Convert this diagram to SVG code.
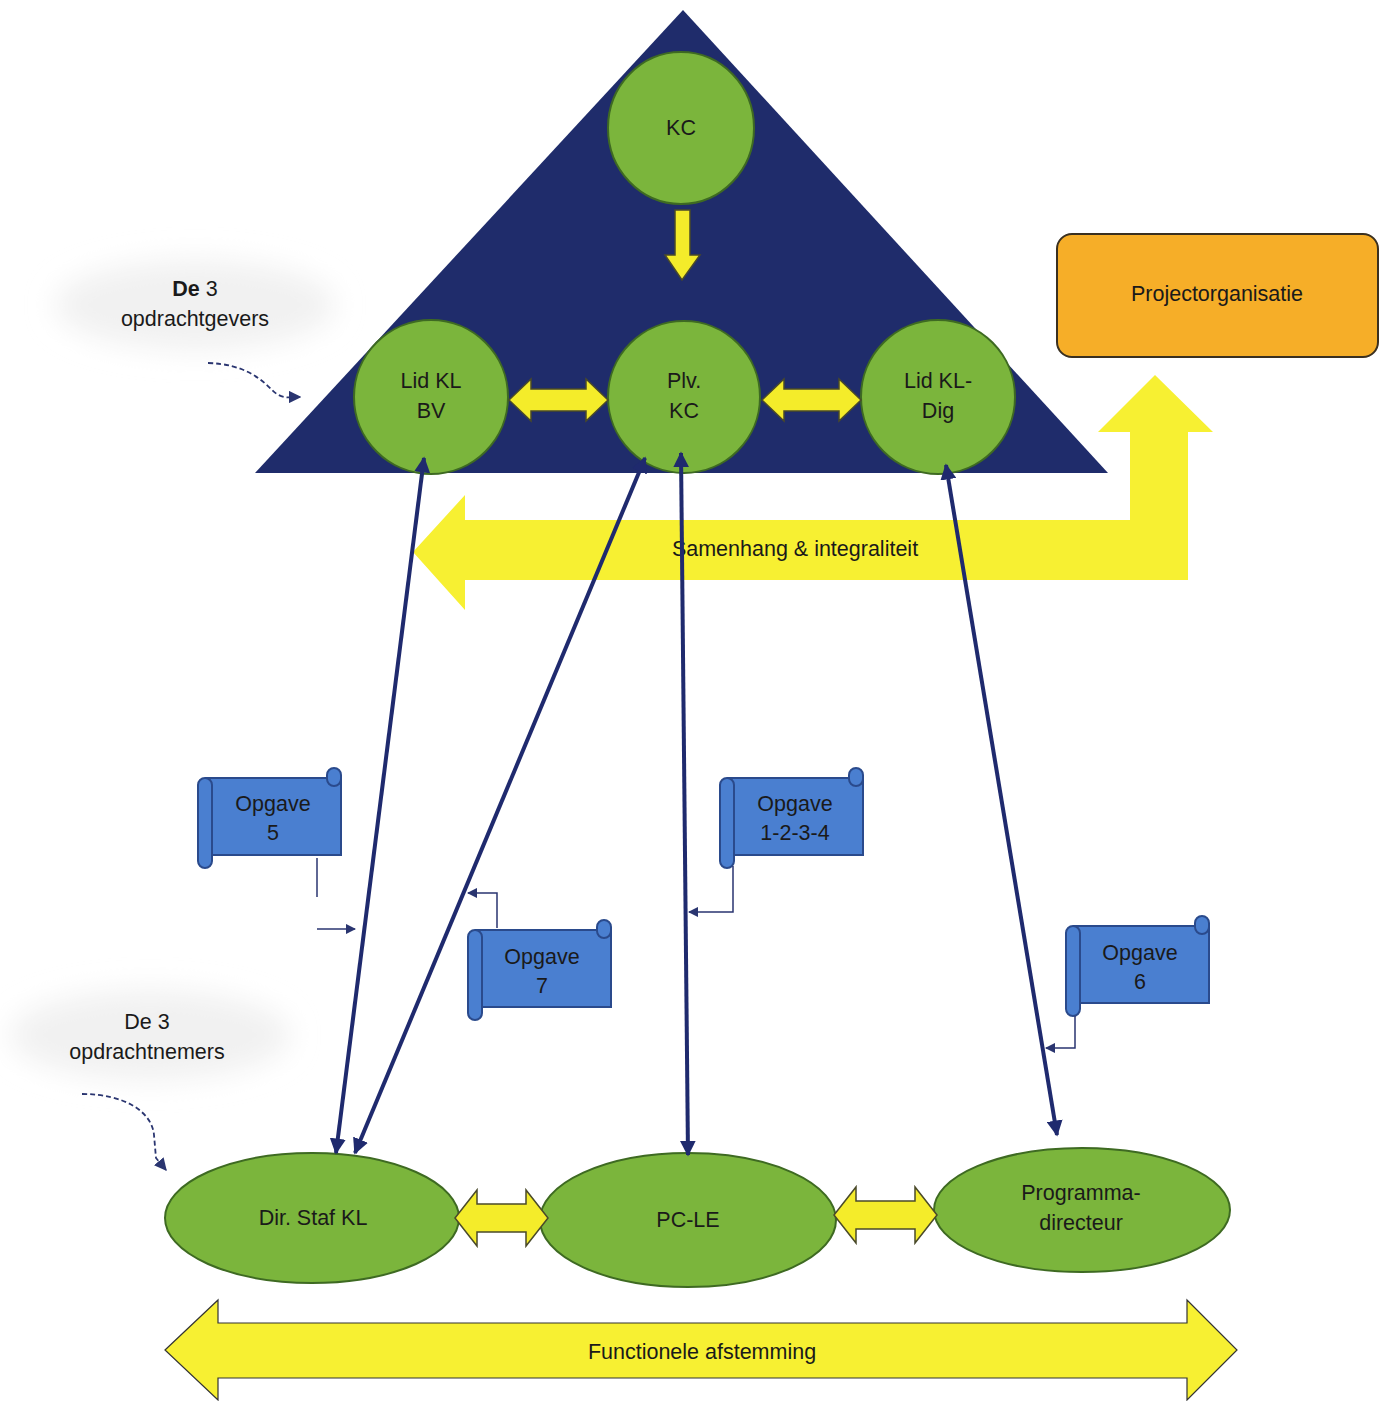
<svg xmlns="http://www.w3.org/2000/svg" width="1384" height="1401" viewBox="0 0 1384 1401">
<style>
text{font-family:"Liberation Sans",Arial,sans-serif;fill:#1a1a1a;text-anchor:middle}
.lbl{font-size:21.5px}
.circ{fill:#7bb53c;stroke:#3e6a22;stroke-width:2}
.yarrow{fill:#f4ec2a;stroke:#4a4a2a;stroke-width:1.5}
.big{fill:#f7f032;stroke:none}
.link{stroke:#1f2a6e;stroke-width:4;fill:none;marker-start:url(#ah);marker-end:url(#ah)}
.thin{stroke:#2a3570;stroke-width:1.5;fill:none}
.dash{stroke:#2a3570;stroke-width:1.8;fill:none;stroke-dasharray:5 3}
.scroll{fill:#4a7fd0;stroke:#2a4a8c;stroke-width:2}
</style>
<defs>
<filter id="soft" x="-30%" y="-50%" width="160%" height="200%"><feGaussianBlur stdDeviation="14"/></filter>
<marker id="ah" viewBox="0 0 10 10" refX="9" refY="5" markerWidth="4" markerHeight="4" orient="auto-start-reverse" markerUnits="strokeWidth"><path d="M0,0 L10,5 L0,10 Z" fill="#1f2a6e"/></marker>
<marker id="sah" viewBox="0 0 10 10" refX="9" refY="5" markerWidth="7" markerHeight="7" orient="auto" markerUnits="strokeWidth"><path d="M0,0 L10,5 L0,10 Z" fill="#2a3570"/></marker>
<g id="scrollShape">
<rect class="scroll" x="8" y="10" width="135" height="77"/>
<rect class="scroll" x="129" y="0" width="14" height="18" rx="7"/>
<rect class="scroll" x="0" y="10" width="14" height="90" rx="7"/>
</g>
</defs>
<rect width="1384" height="1401" fill="#ffffff"/>
<!-- soft label backgrounds -->
<ellipse cx="195" cy="305" rx="140" ry="45" fill="#f1f1f1" filter="url(#soft)"/>
<ellipse cx="150" cy="1035" rx="140" ry="45" fill="#f1f1f1" filter="url(#soft)"/>

<g id="triangle"><polygon points="683,10 255,473 1108,473" fill="#1f2c6b"/></g>

<g id="samenhang">
<path class="big" d="M413,552 L465,495 L465,520 L1130,520 L1130,432 L1098,432 L1155,375 L1213,432 L1188,432 L1188,580 L465,580 L465,610 Z"/>
<text class="lbl" x="795" y="556" font-size="22">Samenhang &amp; integraliteit</text>
</g>

<g id="functionele">
<path class="big" d="M165,1350 L218,1300 L218,1323 L1187,1323 L1187,1300 L1237,1350 L1187,1400 L1187,1378 L218,1378 L218,1400 Z" style="stroke:#333;stroke-width:1.2"/>
<text class="lbl" x="702" y="1359" font-size="22">Functionele afstemming</text>
</g>

<g id="projectorganisatie">
<rect x="1057" y="234" width="321" height="123" rx="15" fill="#f6ae28" stroke="#3a3020" stroke-width="2"/>
<text class="lbl" x="1217" y="301">Projectorganisatie</text>
</g>

<g id="kc">
<ellipse class="circ" cx="681" cy="128" rx="73" ry="76"/>
<text class="lbl" x="681" y="135">KC</text>
</g>
<g id="kc-arrow"><path class="yarrow" d="M675,210 L690,210 L690,255 L700,255 L682,280 L665,255 L675,255 Z"/></g>

<g id="lid-kl-bv">
<circle class="circ" cx="431" cy="397" r="77"/>
<text class="lbl" x="431" y="388">Lid KL</text>
<text class="lbl" x="431" y="418">BV</text>
</g>
<g id="plv-kc">
<circle class="circ" cx="684" cy="397" r="76"/>
<text class="lbl" x="684" y="388">Plv.</text>
<text class="lbl" x="684" y="418">KC</text>
</g>
<g id="lid-kl-dig">
<circle class="circ" cx="938" cy="397" r="77"/>
<text class="lbl" x="938" y="388">Lid KL-</text>
<text class="lbl" x="938" y="418">Dig</text>
</g>
<g id="top-links">
<path class="yarrow" d="M509,400 L531,379 L531,389 L586,389 L586,379 L608,400 L586,421 L586,411 L531,411 L531,421 Z"/>
<path class="yarrow" d="M762,400 L784,379 L784,389 L839,389 L839,379 L861,400 L839,421 L839,411 L784,411 L784,421 Z"/>
</g>

<g id="dir-staf-kl">
<ellipse class="circ" cx="312" cy="1218" rx="147" ry="65"/>
<text class="lbl" x="313" y="1225">Dir. Staf KL</text>
</g>
<g id="pc-le">
<ellipse class="circ" cx="688" cy="1220" rx="148" ry="67"/>
<text class="lbl" x="688" y="1227">PC-LE</text>
</g>
<g id="programmadirecteur">
<ellipse class="circ" cx="1082" cy="1210" rx="148" ry="62"/>
<text class="lbl" x="1081" y="1200">Programma-</text>
<text class="lbl" x="1081" y="1230">directeur</text>
</g>
<g id="bottom-links">
<path class="yarrow" d="M455,1218 L477,1190 L477,1204 L526,1204 L526,1190 L548,1218 L526,1246 L526,1232 L477,1232 L477,1246 Z"/>
<path class="yarrow" d="M834,1215 L856,1187 L856,1201 L915,1201 L915,1187 L937,1215 L915,1243 L915,1229 L856,1229 L856,1243 Z"/>
</g>

<g id="opgave-5">
<use href="#scrollShape" transform="translate(198,768)"/>
<text class="lbl" x="273" y="811">Opgave</text>
<text class="lbl" x="273" y="840">5</text>
</g>
<g id="opgave-1234">
<use href="#scrollShape" transform="translate(720,768)"/>
<text class="lbl" x="795" y="811">Opgave</text>
<text class="lbl" x="795" y="840">1-2-3-4</text>
</g>
<g id="opgave-7">
<use href="#scrollShape" transform="translate(468,920)"/>
<text class="lbl" x="542" y="964">Opgave</text>
<text class="lbl" x="542" y="993">7</text>
</g>
<g id="opgave-6">
<use href="#scrollShape" transform="translate(1066,916)"/>
<text class="lbl" x="1140" y="960">Opgave</text>
<text class="lbl" x="1140" y="989">6</text>
</g>

<g id="label-gevers">
<text class="lbl" x="195" y="296"><tspan font-weight="bold">De</tspan> 3</text>
<text class="lbl" x="195" y="326">opdrachtgevers</text>
</g>
<g id="label-nemers">
<text class="lbl" x="147" y="1029">De 3</text>
<text class="lbl" x="147" y="1059">opdrachtnemers</text>
</g>

<g id="connectors">
<line class="link" x1="424" y1="458" x2="336" y2="1153"/>
<line class="link" x1="645" y1="458" x2="355" y2="1153"/>
<line class="link" x1="681" y1="453" x2="688" y2="1155"/>
<line class="link" x1="946" y1="465" x2="1057" y2="1135"/>
<path class="thin" d="M317,858 V897"/>
<path class="thin" d="M317,929 H355" marker-end="url(#sah)"/>
<path class="thin" d="M497,928 V893 H468" marker-end="url(#sah)"/>
<path class="thin" d="M733,866 V912 H689" marker-end="url(#sah)"/>
<path class="thin" d="M1075,1016 V1048 H1046" marker-end="url(#sah)"/>
<path class="dash" d="M208,363 C245,364 262,380 272,390 S290,397 300,397" marker-end="url(#sah)"/>
<path class="dash" d="M82,1094 C125,1094 152,1112 154,1135 L156,1158 L166,1170" marker-end="url(#sah)"/>
</g>
</svg>
